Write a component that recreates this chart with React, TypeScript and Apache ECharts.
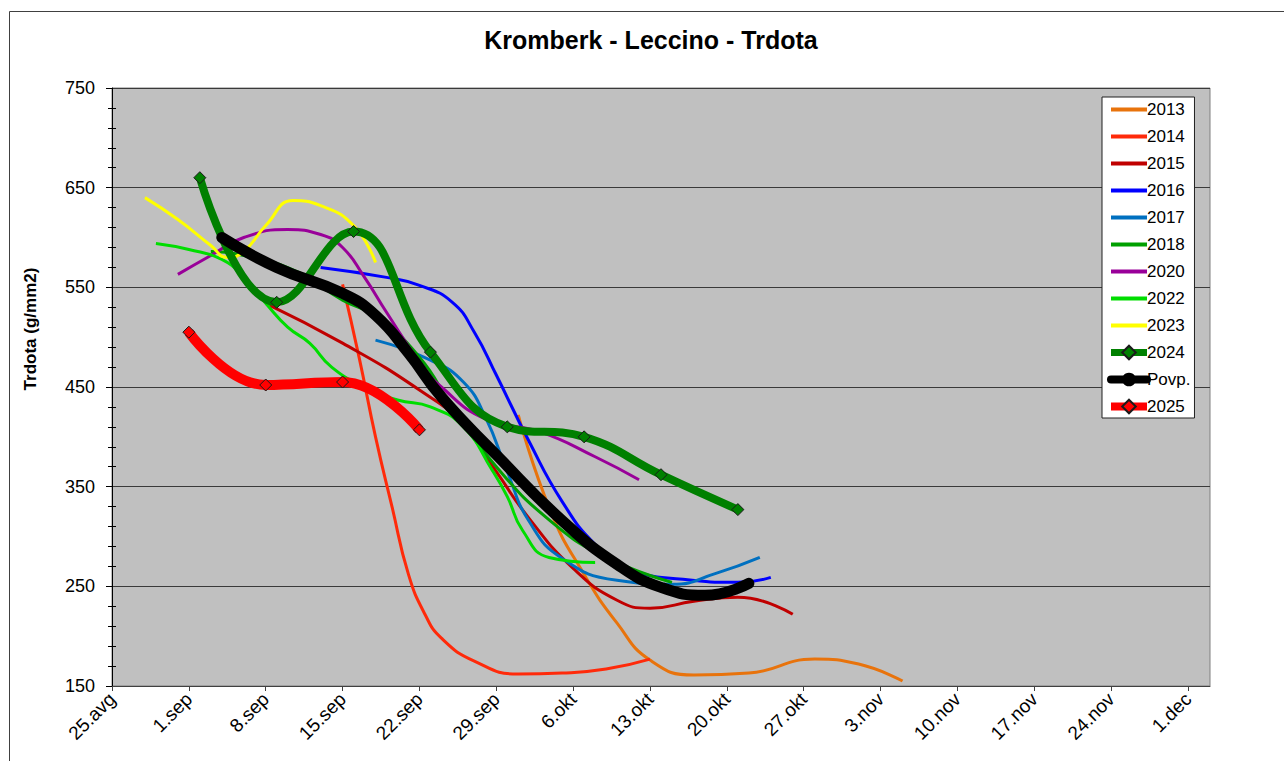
import React, { useEffect, useRef } from "react";
import * as echarts from "echarts";

// x = days since 25 Aug
const tickLabels = ["25.avg", "1.sep", "8.sep", "15.sep", "22.sep", "29.sep", "6.okt", "13.okt", "20.okt", "27.okt", "3.nov", "10.nov", "17.nov", "24.nov", "1.dec"];

const s2013 = [[37, 422], [40, 324], [43, 262], [46, 213], [49, 176], [53, 161], [58, 163], [64, 177], [68, 172], [72, 155]];
const s2014 = [[21, 553], [22.5, 480], [24, 400], [25.5, 330], [27, 262], [28.5, 222], [30, 198], [33, 175], [37, 162], [41, 163], [45, 167], [49, 177]];
const s2015 = [[14, 534], [21, 494], [28, 447], [32, 412], [35, 365], [38, 318], [42, 268], [46, 236], [49, 228], [53, 235], [57, 239], [62, 222]];
const s2016 = [[19, 570], [25, 560], [28, 552], [31, 535], [33, 505], [35, 462], [38, 395], [41, 335], [44, 292], [47, 268], [52, 257], [57, 254], [60, 259]];
const s2017 = [[24, 497], [29, 477], [32, 455], [34, 420], [36, 365], [38, 315], [41, 278], [46, 256], [51, 252], [55, 263], [59, 279]];
const s2018 = [[9, 586], [12, 582], [17, 565], [21, 537], [24, 521], [28, 480], [31, 430], [35, 370], [40, 315], [45, 279], [51, 254]];
const s2020 = [[6, 563], [9, 582], [12, 600], [16, 608], [19, 603], [21, 590], [23, 560], [25, 525], [28, 475], [30, 450], [34, 418], [39, 405], [44, 380], [48, 357]];
const s2022 = [[4, 594], [7, 588], [10, 578], [12, 560], [14, 534], [16, 510], [18, 494], [20, 470], [23, 450], [26, 437], [29, 430], [32, 410], [34.6, 367], [36, 340], [37.4, 306], [39.8, 279], [44, 274]];
const s2023 = [[3, 640], [6, 618], [9, 592], [10.5, 580], [12, 586], [14, 612], [16.5, 637], [19, 632], [22, 612], [24, 575]];
const s2024 = [[8, 660], [15, 535], [22, 606], [29, 485], [36, 410], [43, 400], [50, 362], [57, 327]];
const sAvg = [[10, 600], [15, 570], [21, 544], [24, 522], [27, 484], [30, 440], [35, 382], [41, 316], [46, 272], [50, 249], [54, 241], [58, 253]];
const s2025 = [[7, 505], [14, 452], [21, 455], [28, 407]];

const thin = [
  { name: "2013", data: s2013, color: "#E8730C" },
  { name: "2014", data: s2014, color: "#FF2A0A" },
  { name: "2015", data: s2015, color: "#C00000" },
  { name: "2016", data: s2016, color: "#0000FF" },
  { name: "2017", data: s2017, color: "#0070C0" },
  { name: "2018", data: s2018, color: "#00A000" },
  { name: "2020", data: s2020, color: "#990099" },
  { name: "2022", data: s2022, color: "#00DD00" },
  { name: "2023", data: s2023, color: "#FFFF00" },
];

export default function App() {
  const ref = useRef<HTMLDivElement>(null);
  useEffect(() => {
    const chart = echarts.init(ref.current!, null, { renderer: "svg" });
    const font = "Arial, 'Liberation Sans', sans-serif";
    const lineIcon = "path://M0,0L36,0L36,4L0,4Z";
    const series: any[] = thin.map((s) => ({
      name: s.name,
      type: "line",
      data: s.data,
      smooth: 0.5,
      symbol: "none",
      lineStyle: { color: s.color, width: 3 },
      itemStyle: { color: s.color },
    }));
    series.push({
      name: "2024",
      type: "line",
      data: s2024,
      smooth: 0.45,
      symbol: "diamond",
      symbolSize: 12,
      lineStyle: { color: "#008000", width: 8 },
      itemStyle: { color: "#008000", borderColor: "#1a1a1a", borderWidth: 1 },
    });
    series.push({
      name: "Povp.",
      type: "line",
      data: sAvg,
      smooth: 0.5,
      symbol: "circle",
      symbolSize: 12,
      showSymbol: false,
      lineStyle: { color: "#000000", width: 11, cap: "round" },
      itemStyle: { color: "#000000" },
    });
    series.push({
      name: "2025",
      type: "line",
      data: s2025,
      smooth: 0.45,
      symbol: "diamond",
      symbolSize: 12,
      lineStyle: { color: "#FF0000", width: 10 },
      itemStyle: { color: "#FF0000", borderColor: "#1a1a1a", borderWidth: 1 },
    });

    const legendData: any[] = thin.map((s) => ({ name: s.name, icon: lineIcon }));
    legendData.push(
      { name: "2024", lineStyle: { width: 7, color: "#008000" } },
      { name: "Povp.", lineStyle: { width: 8, color: "#000000" } },
      { name: "2025", lineStyle: { width: 8, color: "#FF0000" } }
    );

    chart.setOption({
      animation: false,
      backgroundColor: "#ffffff",
      title: {
        text: "Kromberk - Leccino - Trdota",
        left: 646,
        textAlign: "center",
        top: 22,
        textStyle: { fontFamily: font, fontSize: 25, fontWeight: "bold", color: "#000" },
      },
      graphic: [
        {
          type: "rect",
          shape: { x: 9.5, y: 11.5, width: 1300, height: 800 },
          style: { fill: "none", stroke: "#404040", lineWidth: 1 },
          silent: true,
          z: -10,
        },
        {
          type: "text",
          x: 30,
          y: 329,
          rotation: Math.PI / 2,
          style: {
            text: "Trdota (g/mm2)",
            fontFamily: font,
            fontSize: 17,
            fontWeight: "bold",
            fill: "#000",
            align: "center",
            verticalAlign: "middle",
          },
        },
      ],
      legend: {
        orient: "vertical",
        left: 1102,
        top: 97,
        backgroundColor: "#ffffff",
        borderColor: "#202020",
        borderWidth: 1,
        borderRadius: 0,
        padding: [4, 4, 3, 5],
        itemWidth: 36,
        itemHeight: 17,
        itemGap: 10,
        textStyle: { fontFamily: font, fontSize: 17, color: "#000", padding: [0, 0, 0, -5] },
        data: legendData,
      },
      grid: {
        left: 112,
        top: 88,
        width: 1098,
        height: 598,
        show: true,
        backgroundColor: "#C0C0C0",
        borderColor: "#808080",
        borderWidth: 1,
      },
      xAxis: {
        type: "value",
        min: 0,
        max: 100,
        interval: 7,
        axisLine: { show: true, lineStyle: { color: "#404040", width: 1 } },
        axisTick: { show: true, length: 5, lineStyle: { color: "#404040" } },
        splitLine: { show: false },
        axisLabel: {
          rotate: 45,
          margin: 10,
          fontFamily: font,
          fontSize: 19,
          color: "#000",
          showMaxLabel: false,
          formatter: (v: number) => (v % 7 === 0 ? tickLabels[v / 7] || "" : ""),
        },
      },
      yAxis: [
        {
          type: "value",
          min: 150,
          max: 750,
          interval: 100,
          axisLine: { show: true, lineStyle: { color: "#000", width: 1 } },
          axisTick: { show: true, length: 6, lineStyle: { color: "#000" } },
          minorTick: { show: true, splitNumber: 5, length: 4, lineStyle: { color: "#000" } },
          splitLine: { show: true, lineStyle: { color: "#3a3a3a", width: 1 } },
          axisLabel: { fontFamily: font, fontSize: 18, color: "#000", margin: 17 },
        },
        {
          type: "value",
          position: "left",
          min: 150,
          max: 750,
          interval: 100,
          axisLine: { show: false },
          axisTick: { show: false, inside: true },
          minorTick: { show: true, splitNumber: 5, length: 4, lineStyle: { color: "#000" } },
          splitLine: { show: false },
          axisLabel: { show: false },
        },
      ],
      series,
    });
    return () => chart.dispose();
  }, []);
  return <div ref={ref} style={{ position: "fixed", left: 0, top: 0, width: 1284, height: 761 }} />;
}
